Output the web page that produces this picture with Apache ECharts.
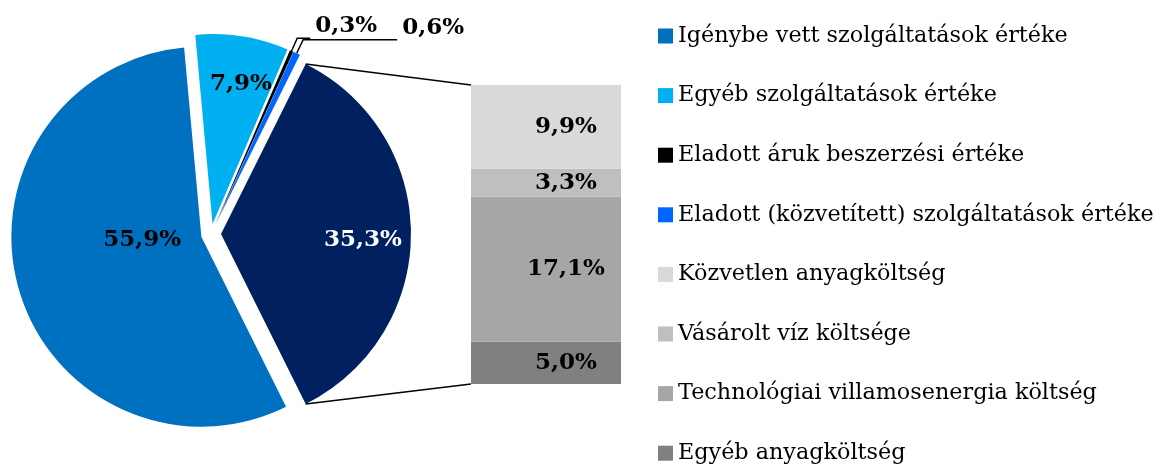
<!DOCTYPE html>
<html><head><meta charset="utf-8">
<script src="https://cdn.jsdelivr.net/npm/echarts@6/dist/echarts.min.js"></script>
<style>html,body{margin:0;padding:0;background:#fff}#c{width:1160px;height:466px}</style>
</head><body><div id="c"></div>
<script>
// ---- data ----
const pieNames = ['Igénybe vett szolgáltatások értéke', 'Egyéb szolgáltatások értéke', 'Eladott áruk beszerzési értéke', 'Eladott (közvetített) szolgáltatások értéke'];
const pieValues = [55.9, 7.9, 0.3, 0.6];
const otherName = 'Anyagköltség';
// stacked bar, bottom to top
const barNames = ['Egyéb anyagköltség', 'Technológiai villamosenergia költség', 'Vásárolt víz költsége', 'Közvetlen anyagköltség'];
const barValues = [5.0, 17.1, 3.3, 9.9];
const legendOrder = pieNames.concat(['Közvetlen anyagköltség', 'Vásárolt víz költsége', 'Technológiai villamosenergia költség', 'Egyéb anyagköltség']);

// ---- style ----
const pieColors = ['#0070C0', '#00B0F0', '#000000', '#0066FF'];
const otherColor = '#002060';
const barColors = ['#808080', '#A6A6A6', '#BFBFBF', '#D9D9D9'];
const FONT = 'DejaVu Serif';
const CX = 211, CY = 234, R = 190, OFF = 10;
const GRID_L = 471, GRID_W = 150, GRID_T = 85, GRID_H = 299;

const otherValue = barValues.reduce((a, b) => a + b, 0);
const total = pieValues.reduce((a, b) => a + b, 0) + otherValue;
const fmt = v => v.toFixed(1).replace('.', ',') + '%';

// label tweaks (style only)
const labelShift = { 0: [35, -23], 1: [13, -43], 2: [0, -12], 3: [0, -12], 4: [44, 6] };
const outsideLine = { 2: [14, 13], 3: [15, 94] };

const pieData = pieValues.map((v, i) => {
  const d = { name: pieNames[i], value: v, selected: true, itemStyle: { color: pieColors[i] } };
  if (outsideLine[i]) {
    d.label = { position: 'outside' };
    d.labelLine = { show: true, length: outsideLine[i][0], length2: outsideLine[i][1] };
  } else {
    d.label = { position: 'inside' };
    d.labelLine = { show: false };
  }
  return d;
});
pieData.push({ name: otherName, value: otherValue, selected: true, itemStyle: { color: otherColor },
  label: { position: 'inside', color: '#fff' }, labelLine: { show: false } });

const series = [{
  type: 'pie',
  center: [CX, CY],
  radius: R,
  startAngle: -(otherValue / total) * 180,
  clockwise: true,
  selectedMode: 'multiple',
  selectedOffset: OFF,
  avoidLabelOverlap: false,
  animation: false,
  emphasis: { disabled: true },
  itemStyle: { borderWidth: 0 },
  label: {
    show: true, position: 'outside', formatter: p => fmt(p.value),
    fontFamily: FONT, fontWeight: 'bold', fontSize: 23, color: '#000'
  },
  labelLine: { lineStyle: { color: '#000', width: 1.5 }, smooth: false },
  labelLayout: p => {
    const s = labelShift[p.dataIndex];
    return s ? { dx: s[0], dy: s[1] } : {};
  },
  data: pieData
}];

barNames.forEach((n, i) => {
  series.push({
    type: 'bar', name: n, stack: 'bar', data: [barValues[i]],
    barWidth: '100%', itemStyle: { color: barColors[i] },
    animation: false, emphasis: { disabled: true },
    label: { show: true, position: 'inside', offset: [20, 0], formatter: p => fmt(p.value),
      fontFamily: FONT, fontWeight: 'bold', fontSize: 23, color: '#000' }
  });
});

const chart = echarts.init(document.getElementById('c'), null, { renderer: 'canvas' });
chart.setOption({
  animation: false,
  backgroundColor: '#fff',
  grid: { left: GRID_L, top: GRID_T, width: GRID_W, height: GRID_H, containLabel: false },
  xAxis: { type: 'category', data: [''], show: false, boundaryGap: true },
  yAxis: { type: 'value', min: 0, max: otherValue, show: false },
  legend: {
    orient: 'vertical', left: 658, top: 25, padding: 0, icon: 'rect', itemWidth: 15, itemHeight: 15,
    itemGap: 37.6, itemTextGap: 8, selectedMode: false,
    textStyle: { fontFamily: FONT, fontSize: 22.3, lineHeight: 22, color: '#000' },
    data: legendOrder
  },
  series: series
});

// connector lines between the "other" slice and the bar
const half = (otherValue / total) * Math.PI;
const t1 = Math.PI / 2 - half, t2 = Math.PI / 2 + half;
const p1 = [CX + OFF + R * Math.sin(t1), CY - R * Math.cos(t1)];
const p2 = [CX + OFF + R * Math.sin(t2), CY - R * Math.cos(t2)];
const yTop = chart.convertToPixel({ yAxisIndex: 0 }, otherValue);
const yBot = chart.convertToPixel({ yAxisIndex: 0 }, 0);
const xC = chart.convertToPixel({ xAxisIndex: 0 }, 0);
const xL = xC - GRID_W / 2;
chart.setOption({
  graphic: [
    { type: 'line', shape: { x1: p1[0], y1: p1[1], x2: xL, y2: yTop }, style: { stroke: '#000', lineWidth: 1.5 }, z: 10 },
    { type: 'line', shape: { x1: p2[0], y1: p2[1], x2: xL, y2: yBot }, style: { stroke: '#000', lineWidth: 1.5 }, z: 10 }
  ]
});
</script></body></html>
